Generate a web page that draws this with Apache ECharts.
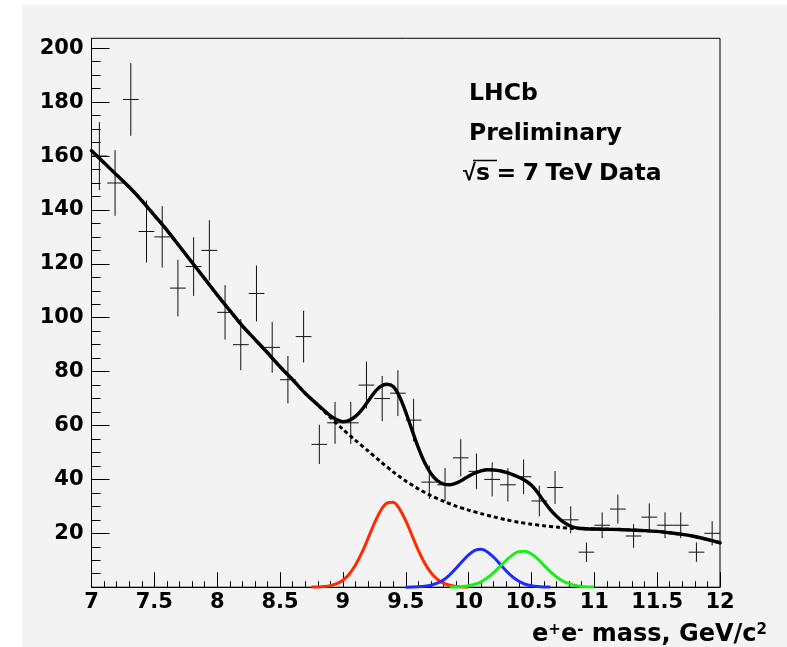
<!DOCTYPE html>
<html><head><meta charset="utf-8">
<script src="https://cdn.jsdelivr.net/npm/echarts@6/dist/echarts.min.js"></script>
<style>html,body{margin:0;padding:0;background:#fff}#c{width:787px;height:647px}</style>
</head><body><div id="c"></div>
<script>
// ---- data ----
const binCenters = [7.0625, 7.1875, 7.3125, 7.4375, 7.5625, 7.6875, 7.8125, 7.9375, 8.0625, 8.1875,
  8.3125, 8.4375, 8.5625, 8.6875, 8.8125, 8.9375, 9.0625, 9.1875, 9.3125, 9.4375,
  9.5625, 9.6875, 9.8125, 9.9375, 10.0625, 10.1875, 10.3125, 10.4375, 10.5625, 10.6875,
  10.8125, 10.9375, 11.0625, 11.1875, 11.3125, 11.4375, 11.5625, 11.6875, 11.8125, 11.9375];
const counts = [160, 150, 181, 132, 130, 111, 119, 125, 102, 90,
  109, 89, 77, 93, 53, 61, 61, 75, 70, 72,
  62, 39, 38, 48, 43, 40, 38, 41, 32, 37,
  25, 13, 23, 29, 19, 26, 23, 23, 13, 20];
const errors = [12.6, 12.2, 13.5, 11.5, 11.4, 10.5, 10.9, 11.2, 10.1, 9.5,
  10.4, 9.4, 8.8, 9.6, 7.3, 7.8, 7.8, 8.7, 8.4, 8.5,
  7.9, 6.2, 6.2, 6.9, 6.6, 6.3, 6.2, 6.4, 5.7, 6.1,
  5.0, 3.6, 4.8, 5.4, 4.4, 5.1, 4.8, 4.8, 3.6, 4.5];
const binHalfWidth = 0.0625;

const totalX = [7.0, 7.1, 7.2, 7.3, 7.4, 7.5, 7.6, 7.7, 7.8, 7.9, 8.0, 8.1, 8.2, 8.3, 8.4, 8.5, 8.6, 8.7, 8.8,
  8.9, 8.95, 9.0, 9.05, 9.1, 9.15, 9.2, 9.25, 9.3, 9.35, 9.4, 9.45, 9.5, 9.55, 9.6, 9.65, 9.7, 9.75, 9.8, 9.85,
  9.9, 9.95, 10.0, 10.05, 10.1, 10.15, 10.2, 10.25, 10.3, 10.35, 10.4, 10.45, 10.5, 10.55, 10.6, 10.65, 10.7,
  10.75, 10.8, 10.85, 10.9, 11.0, 11.1, 11.2, 11.3, 11.4, 11.5, 11.6, 11.7, 11.8, 11.9, 12.0];
const totalY = [162, 157.5, 153, 148.5, 143.5, 138, 132.5, 126.5, 120.5, 114.5, 108.5, 102.7, 97, 92, 87, 81.8, 77, 72, 67.7,
  63.6, 62.2, 61.4, 61.9, 63.4, 65.8, 69.0, 72.2, 74.5, 75.3, 74.5, 70.8, 65.0, 58.3, 51.8, 46.3, 42.2, 39.6, 38.3, 38.0,
  38.6, 39.8, 41.2, 42.4, 43.2, 43.6, 43.5, 43.2, 42.6, 41.8, 40.8, 39.6, 37.8, 35.1, 31.8, 28.8, 26.3,
  24.3, 22.9, 22.1, 21.8, 21.6, 21.5, 21.4, 21.2, 21.0, 20.7, 20.2, 19.6, 18.8, 17.7, 16.5];

const bgX = [7.0, 7.1, 7.2, 7.3, 7.4, 7.5, 7.6, 7.7, 7.8, 7.9, 8.0, 8.1, 8.2, 8.3, 8.4, 8.5, 8.6, 8.7, 8.8,
  8.9, 9.0, 9.1, 9.2, 9.3, 9.4, 9.5, 9.6, 9.7, 9.8, 9.9, 10.0, 10.1, 10.2, 10.3, 10.4, 10.5, 10.6, 10.7, 10.8, 10.9,
  11.0, 11.1, 11.2, 11.3, 11.4, 11.5, 11.6, 11.7, 11.8, 11.9, 12.0];
const bgY = [162, 157.5, 153, 148.5, 143.5, 138, 132.5, 126.5, 120.5, 114.5, 108.5, 102.7, 97, 92, 87, 81.8, 77, 72, 67.6,
  63, 58.6, 54.5, 50.6, 46.6, 42.8, 39.4, 36.5, 34, 31.9, 30.1, 28.6, 27.3, 26.1, 25.0, 24.1, 23.4, 22.8, 22.3, 21.9, 21.7,
  21.6, 21.5, 21.4, 21.2, 21.0, 20.7, 20.2, 19.6, 18.8, 17.7, 16.5];

const ups1X = [8.75, 8.8, 8.85, 8.9, 8.95, 9.0, 9.05, 9.1, 9.15, 9.2, 9.25, 9.3, 9.35, 9.4, 9.45, 9.5, 9.55,
  9.6, 9.65, 9.7, 9.75, 9.8, 9.85, 9.9, 9.95, 10.0];
const ups1Y = [0.03, 0.09, 0.25, 0.59, 1.3, 2.6, 4.8, 8.2, 12.7, 18.1, 23.7, 28.4, 31.2, 31.5, 29.1, 24.7, 19.2,
  13.7, 9.0, 5.4, 3.0, 1.5, 0.7, 0.3, 0.1, 0.04];
const ups2X = [9.5, 9.55, 9.6, 9.65, 9.7, 9.75, 9.8, 9.85, 9.9, 9.95, 10.0, 10.05, 10.1, 10.15, 10.2, 10.25,
  10.3, 10.35, 10.4, 10.45, 10.5, 10.55, 10.6, 10.65];
const ups2Y = [0.02, 0.05, 0.13, 0.32, 0.72, 1.47, 2.7, 4.6, 7.0, 9.6, 12.0, 13.7, 14.1, 13.1, 11.1, 8.6,
  6.0, 3.8, 2.2, 1.1, 0.53, 0.23, 0.09, 0.03];
const ups3X = [9.85, 9.9, 9.95, 10.0, 10.05, 10.1, 10.15, 10.2, 10.25, 10.3, 10.35, 10.4, 10.45, 10.5, 10.55,
  10.6, 10.65, 10.7, 10.75, 10.8, 10.85, 10.9, 10.95, 11.0];
const ups3Y = [0.04, 0.10, 0.25, 0.55, 1.1, 2.0, 3.5, 5.4, 7.7, 10.0, 12.0, 13.2, 13.3, 12.3, 10.5,
  8.1, 5.8, 3.8, 2.3, 1.3, 0.63, 0.29, 0.12, 0.05];

const xMin = 7, xMax = 12, xStep = 0.5;
const yMax = 203.7, yTickTop = 200, yStep = 20;

// ---- layout ----
const W = 787, H = 647;
const plotLeft = 91.5, plotRight = 720, plotTop = 38.3, plotBottom = 587.2;
const plotH = plotBottom - plotTop;
const tickGridTop = plotTop + plotH * (yMax - yTickTop) / yMax;
const FONT = '"DejaVu Sans", sans-serif';

const zip = (a, b) => a.map((v, i) => [v, b[i]]);
const pts = binCenters.map((x, i) => [x, counts[i], errors[i]]);

const chart = echarts.init(document.getElementById('c'), null, {renderer: 'canvas'});
const axisLabelStyle = {color: '#000', fontFamily: FONT, fontWeight: 'bold', fontSize: 21};

const option = {
  backgroundColor: '#ffffff',
  animation: false,
  grid: [
    {left: plotLeft, right: W - plotRight, top: plotTop, bottom: H - plotBottom, show: true,
      borderColor: '#000', borderWidth: 1, backgroundColor: 'transparent', containLabel: false, outerBoundsMode: 'none'},
    {left: plotLeft, right: W - plotRight, top: tickGridTop, bottom: H - plotBottom, show: false,
      containLabel: false, outerBoundsMode: 'none'}
  ],
  xAxis: [
    {type: 'value', gridIndex: 0, min: xMin, max: xMax, interval: xStep,
      axisLine: {show: true, lineStyle: {color: '#000', width: 1}},
      axisTick: {show: true, inside: true, length: 15, lineStyle: {color: '#000', width: 1}},
      minorTick: {show: true, splitNumber: 5, length: 6, lineStyle: {color: '#000', width: 1}},
      splitLine: {show: false}, minorSplitLine: {show: false},
      axisLabel: Object.assign({margin: 5, showMinLabel: true, showMaxLabel: true, hideOverlap: false}, axisLabelStyle)},
    {type: 'value', gridIndex: 1, min: xMin, max: xMax, show: false}
  ],
  yAxis: [
    {type: 'value', gridIndex: 0, min: 0, max: yMax,
      axisLine: {show: true, lineStyle: {color: '#000', width: 1}},
      axisTick: {show: false}, axisLabel: {show: false}, splitLine: {show: false}},
    {type: 'value', gridIndex: 1, min: 0, max: yTickTop, interval: yStep,
      axisLine: {show: false},
      axisTick: {show: true, inside: true, length: 18, lineStyle: {color: '#000', width: 1}},
      minorTick: {show: true, splitNumber: 4, length: 9, lineStyle: {color: '#000', width: 1}},
      splitLine: {show: false}, minorSplitLine: {show: false},
      axisLabel: Object.assign({margin: 8, showMinLabel: true, showMaxLabel: true, hideOverlap: false,
        formatter: v => (v === 0 ? '' : String(v))}, axisLabelStyle)}
  ],
  series: [
    {type: 'custom', xAxisIndex: 0, yAxisIndex: 0, data: pts, encode: {x: 0, y: 1}, z: 3,
      renderItem: (params, api) => {
        const x = api.value(0), y = api.value(1), e = api.value(2);
        const t = api.coord([x, y + e]), b = api.coord([x, y - e]);
        const l = api.coord([x - binHalfWidth, y]), r = api.coord([x + binHalfWidth, y]);
        const st = {stroke: '#111', lineWidth: 1};
        return {type: 'group', children: [
          {type: 'line', shape: {x1: t[0], y1: t[1], x2: b[0], y2: b[1]}, style: st},
          {type: 'line', shape: {x1: l[0], y1: l[1], x2: r[0], y2: r[1]}, style: st}
        ]};
      }},
    {type: 'line', data: zip(ups1X, ups1Y), showSymbol: false, smooth: 0.3, clip: false, z: 4,
      lineStyle: {color: '#ff2a00', width: 3}},
    {type: 'line', data: zip(ups2X, ups2Y), showSymbol: false, smooth: 0.3, clip: false, z: 4,
      lineStyle: {color: '#1c2cff', width: 3}},
    {type: 'line', data: zip(ups3X, ups3Y), showSymbol: false, smooth: 0.3, clip: false, z: 4,
      lineStyle: {color: '#18ee18', width: 3}},
    {type: 'line', data: zip(bgX, bgY), showSymbol: false, smooth: 0.3, z: 5,
      lineStyle: {color: '#000', width: 3, type: [4, 3]}},
    {type: 'line', data: zip(totalX, totalY), showSymbol: false, smooth: 0.3, z: 6,
      lineStyle: {color: '#000', width: 3.4, cap: 'round'}}
  ],
  graphic: [
    {type: 'rect', z: -100, silent: true, shape: {x: 22, y: 5, width: W - 22, height: H - 5},
      style: {fill: '#f3f3f3'}},
    {type: 'text', x: 469, y: 93.5, style: {text: 'LHCb', fill: '#000', font: 'bold 23.5px ' + FONT, verticalAlign: 'middle'}},
    {type: 'text', x: 469, y: 133.5, style: {text: 'Preliminary', fill: '#000', font: 'bold 23.5px ' + FONT, verticalAlign: 'middle'}},
    {type: 'text', x: 463, y: 173.5, style: {
      text: '{r|√}{t|s}{sp| }{t|=}{sp| }{t|7}{sp| }{t|TeV}{sp| }{t|Data}', verticalAlign: 'middle',
      rich: {
        r: {fontFamily: '"Liberation Sans", sans-serif', fontWeight: 'bold', fontSize: 23.5, fill: '#000'},
        t: {fontFamily: FONT, fontWeight: 'bold', fontSize: 23.5, fill: '#000'},
        sp: {fontFamily: '"Liberation Sans", sans-serif', fontWeight: 'bold', fontSize: 23.5, fill: '#000'}
      }}},
    {type: 'line', shape: {x1: 473, y1: 160.5, x2: 497, y2: 160.5}, style: {stroke: '#000', lineWidth: 1.5}},
    {type: 'text', x: 767, y: 647, style: {
      text: '{m|e}{s|+}{m|e}{s|-}{m| mass, GeV/c}{s|2}', align: 'right', verticalAlign: 'bottom',
      rich: {
        m: {fontFamily: FONT, fontWeight: 'bold', fontSize: 24, lineHeight: 24, verticalAlign: 'bottom', fill: '#000'},
        s: {fontFamily: FONT, fontWeight: 'bold', fontSize: 15, lineHeight: 15, verticalAlign: 'top',
          padding: [0, 0, 16, 0], fill: '#000'}
      }}}
  ]
};
chart.setOption(option);
</script>
</body></html>
